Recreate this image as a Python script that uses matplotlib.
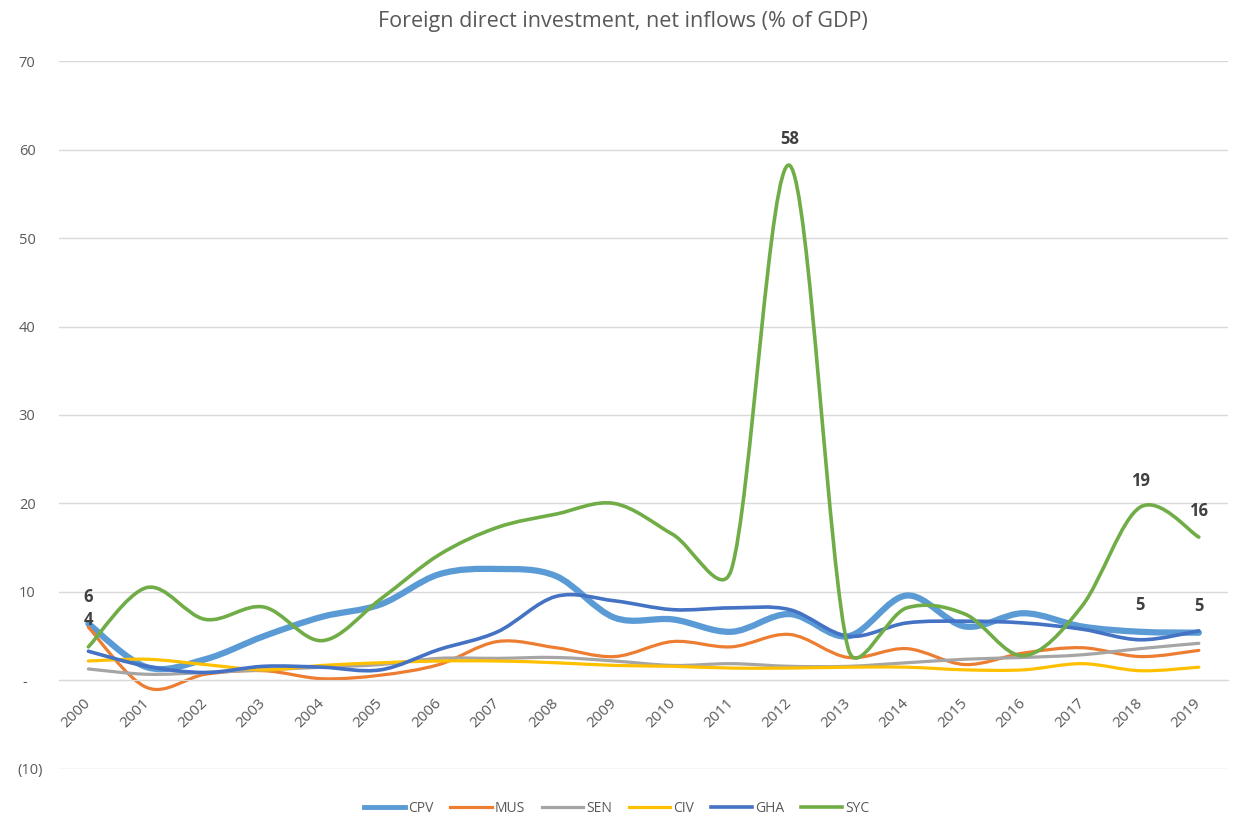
import matplotlib
matplotlib.use("Agg")
import matplotlib.pyplot as plt
from matplotlib.path import Path
from matplotlib.patches import PathPatch
from matplotlib.lines import Line2D
from matplotlib.transforms import ScaledTranslation
import numpy as np

plt.rcParams['font.family'] = ['Open Sans', 'DejaVu Sans']

years = [str(y) for y in range(2000, 2020)]

cpv = [6.4, 1.5, 2.4, 5.0, 7.2, 8.6, 12.0, 12.6, 11.8, 7.1, 6.9, 5.5, 7.5, 5.0, 9.6, 6.1, 7.6, 6.1, 5.5, 5.4]
mus = [6.0, -0.8, 0.7, 1.1, 0.2, 0.6, 1.8, 4.4, 3.7, 2.7, 4.4, 3.8, 5.2, 2.6, 3.6, 1.8, 3.1, 3.7, 2.7, 3.4]
sen = [1.3, 0.7, 0.9, 1.2, 1.5, 1.8, 2.5, 2.5, 2.6, 2.2, 1.7, 1.9, 1.6, 1.6, 2.0, 2.4, 2.6, 2.9, 3.6, 4.2]
civ = [2.2, 2.4, 1.8, 1.2, 1.7, 2.0, 2.2, 2.2, 2.0, 1.7, 1.6, 1.4, 1.4, 1.5, 1.5, 1.2, 1.2, 1.9, 1.1, 1.5]
gha = [3.3, 1.6, 0.9, 1.6, 1.5, 1.2, 3.5, 5.5, 9.5, 9.0, 8.0, 8.2, 8.0, 5.0, 6.5, 6.7, 6.5, 5.8, 4.6, 5.6]
syc = [3.8, 10.5, 6.9, 8.3, 4.5, 9.2, 14.2, 17.3, 18.8, 20.0, 16.5, 12.5, 58.2, 3.6, 8.2, 7.5, 2.8, 8.4, 19.6, 16.2]

series = [("CPV", cpv, "#5B9BD5", 4.5),
          ("MUS", mus, "#ED7D31", 2.3),
          ("SEN", sen, "#A5A5A5", 2.3),
          ("CIV", civ, "#FFC000", 2.3),
          ("GHA", gha, "#4472C4", 2.6),
          ("SYC", syc, "#70AD47", 2.6)]

# (series index, year index, text)
labels = [(0, 0, "6"), (5, 0, "4"), (5, 12, "58"), (5, 18, "19"), (5, 19, "16"),
          (0, 18, "5"), (0, 19, "5")]

# rough pixel size of one unit on each axis, used so the smoothing behaves like on screen
SX, SY = 58.4, 8.85


def smooth_path(xs, ys):
    pts = np.column_stack([np.asarray(xs, float) * SX, np.asarray(ys, float) * SY])
    n = len(pts)
    tin, tout = [], []
    for i in range(n):
        p0 = pts[max(i - 1, 0)]
        p1 = pts[i]
        p2 = pts[min(i + 1, n - 1)]
        t = p2 - p0
        d02 = np.hypot(*t)
        if d02 == 0:
            tin.append(np.zeros(2)); tout.append(np.zeros(2)); continue
        u = t / d02
        d01 = np.hypot(*(p1 - p0))
        d12 = np.hypot(*(p2 - p1))
        lin = min(d02 / 6, d01 / 2) if i > 0 else 0
        lout = min(d02 / 6, d12 / 2) if i < n - 1 else 0
        tin.append(u * lin); tout.append(u * lout)
    verts = [pts[0]]
    codes = [Path.MOVETO]
    for i in range(n - 1):
        verts += [pts[i] + tout[i], pts[i + 1] - tin[i + 1], pts[i + 1]]
        codes += [Path.CURVE4] * 3
    verts = np.array(verts) / [SX, SY]
    return Path(verts, codes)


fig = plt.figure(figsize=(12.33, 8.17), dpi=100)
ax = fig.add_axes([0.048, 0.0588, 0.948, 0.8665])

x = np.arange(len(years))
for name, vals, color, lw in series:
    patch = PathPatch(smooth_path(x, vals), facecolor="none", edgecolor=color,
                      lw=lw, capstyle="round", joinstyle="round")
    ax.add_patch(patch)

for si, yi, txt in labels:
    ax.annotate(txt, (x[yi], series[si][1][yi]), xytext=(0, 19),
                textcoords="offset points", ha="center", va="center",
                fontsize=12, fontweight="bold", color="#404040")

ax.set_xlim(-0.5, len(years) - 0.5)
ax.set_ylim(-10, 70)
yt = list(range(-10, 71, 10))
ax.set_yticks(yt)
ax.set_yticklabels(["(10)", "-"] + [str(v) for v in range(10, 71, 10)])
ax.grid(axis="y", color="#D9D9D9", lw=1)
ax.set_axisbelow(True)
for s in ["top", "right", "left"]:
    ax.spines[s].set_visible(False)
ax.spines["bottom"].set_position(("data", 0))
ax.spines["bottom"].set_color("#D9D9D9")
ax.set_xticks(x)
ax.set_xticklabels(years, rotation=45, ha="right", va="center", rotation_mode="anchor")
ax.tick_params(axis="x", length=0, pad=15, labelsize=11, colors="#595959")
ax.tick_params(axis="y", length=0, pad=12, labelsize=10.5, colors="#595959")
# accounting-style alignment: plain numbers leave room for the closing bracket
for lab, v in zip(ax.get_yticklabels(), yt):
    dx = 0 if v < 0 else (-15 if v == 0 else -7)
    lab.set_transform(lab.get_transform() + ScaledTranslation(dx / 100, 0, fig.dpi_scale_trans))

fig.text(0.505, 0.974, "Foreign direct investment, net inflows (% of GDP)",
         ha="center", va="center", fontsize=15.5, color="#595959")

handles = [Line2D([], [], color=c, lw=lw if lw < 4 else 3.5) for _, _, c, lw in series]
fig.legend(handles, [s[0] for s in series], loc="center", bbox_to_anchor=(0.5, 0.011),
           ncol=6, frameon=False, fontsize=10, handlelength=3.0, handletextpad=0.2,
           columnspacing=1.2, labelcolor="#595959")

fig.savefig("out.png", dpi=100)
